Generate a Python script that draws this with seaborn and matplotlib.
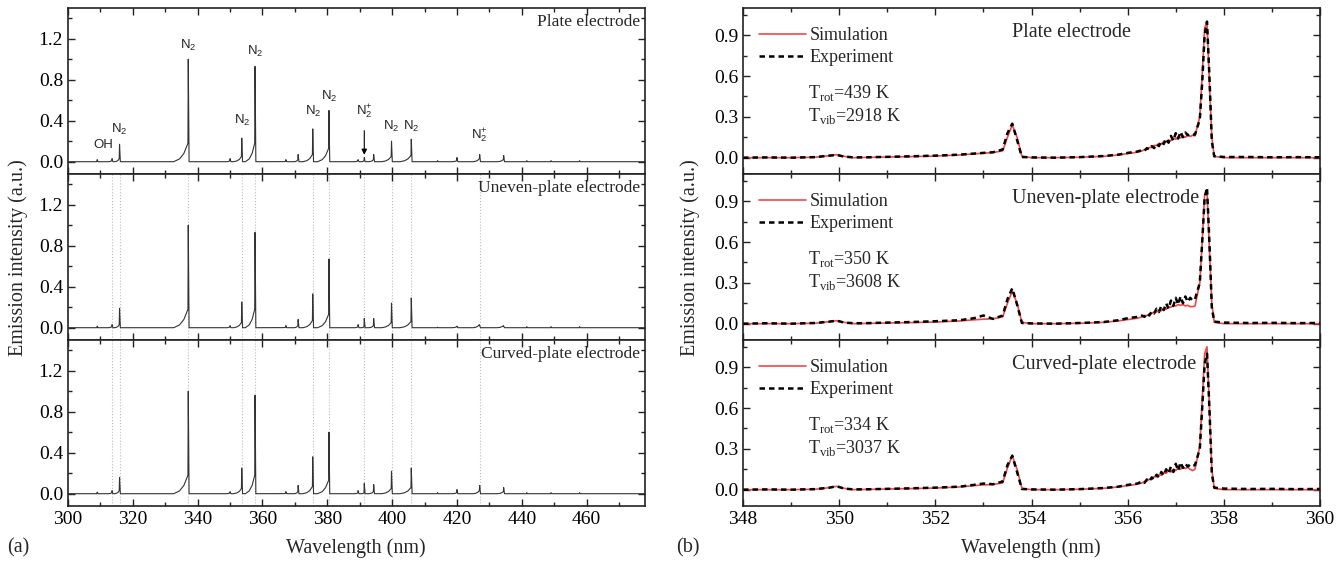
import matplotlib
matplotlib.use("Agg")
import matplotlib.pyplot as plt
import pandas as pd
import seaborn as sns

# ---------------- panel (a): survey spectra ----------------
band_heads = [309.0, 313.6, 315.9, 337.1, 350.0, 353.6, 357.7, 367.2, 371.0, 375.5, 380.5,
              389.5, 391.4, 394.3, 399.8, 405.9, 414.0, 420.0, 427.0, 434.4, 441.5, 449.0, 457.8]
band_widths = [1.0, 1.2, 1.5, 4.5, 1.0, 2.5, 3.0, 1.0, 1.2, 3.0, 3.5,
               1.0, 0.8, 1.5, 3.0, 3.5, 1.0, 1.5, 2.0, 2.0, 1.0, 1.0, 1.0]
band_tails = [0.0, 0.01, 0.03, 0.18, 0.01, 0.05, 0.18, 0.005, 0.02, 0.07, 0.13,
              0.01, 0.01, 0.02, 0.05, 0.06, 0.0, 0.01, 0.03, 0.02, 0.0, 0.0, 0.0]
peaks_plate = [0.02, 0.03, 0.17, 1.0, 0.03, 0.23, 0.93, 0.02, 0.07, 0.32, 0.50,
               0.02, 0.04, 0.07, 0.20, 0.22, 0.01, 0.04, 0.07, 0.06, 0.01, 0.01, 0.01]
peaks_uneven = [0.015, 0.03, 0.19, 1.0, 0.02, 0.25, 0.93, 0.02, 0.08, 0.33, 0.67,
                0.03, 0.09, 0.09, 0.24, 0.29, 0.005, 0.015, 0.02, 0.015, 0.01, 0.01, 0.01]
peaks_curved = [0.015, 0.03, 0.16, 1.0, 0.02, 0.25, 0.96, 0.02, 0.08, 0.36, 0.60,
                0.03, 0.10, 0.09, 0.22, 0.25, 0.01, 0.04, 0.08, 0.06, 0.01, 0.01, 0.01]
marked_lines = [313.6, 315.9, 337.1, 353.6, 357.7, 375.5, 380.5, 391.4, 399.8, 405.9, 427.0]
electrodes = ["Plate electrode", "Uneven-plate electrode", "Curved-plate electrode"]

# peak labels in the top survey panel: (wavelength, height, text)
label_wl = [310.8, 315.9, 337.1, 353.6, 357.7, 375.5, 380.5, 391.4, 399.8, 405.9, 427.0]
label_y = [0.16, 0.31, 1.13, 0.40, 1.08, 0.49, 0.64, 0.49, 0.34, 0.34, 0.25]
label_txt = ["OH", "N2", "N2", "N2", "N2", "N2", "N2", "N2+", "N2", "N2", "N2+"]

# ---------------- panel (b): fitted N2 (0-2)/(1-3) bands ----------------
wl_b = [348.0, 348.5, 349.0, 349.5, 349.8, 349.95, 350.1, 350.3, 350.6, 351.0, 351.5, 352.0,
        352.5, 352.8, 353.0, 353.2, 353.4, 353.5, 353.6, 353.7, 353.8, 354.0, 354.5, 355.0,
        355.5, 355.8, 356.0, 356.2,
        356.3, 356.35, 356.4, 356.45, 356.5, 356.55, 356.6, 356.65, 356.7, 356.75, 356.8,
        356.85, 356.9, 356.95, 357.0, 357.05, 357.1, 357.15, 357.2, 357.25, 357.3, 357.35, 357.4,
        357.5, 357.55, 357.6, 357.65, 357.7, 357.75, 357.8, 358.0, 358.5, 359.0, 359.5, 360.0]

sim_plate = [0, 0, 0, 0.003, 0.015, 0.022, 0.01, 0.0, 0.002, 0.005, 0.008, 0.012,
             0.02, 0.028, 0.033, 0.038, 0.05, 0.15, 0.24, 0.15, 0.01, 0.0, 0.0, 0.003,
             0.01, 0.02, 0.03, 0.04,
             0.05, 0.06, 0.06, 0.075, 0.075, 0.09, 0.09, 0.105, 0.1, 0.12, 0.115,
             0.13, 0.125, 0.145, 0.135, 0.155, 0.145, 0.16, 0.15, 0.165, 0.155, 0.165, 0.16,
             0.3, 0.6, 0.95, 1.0, 0.55, 0.15, 0.01, 0.0, 0.0, 0.0, 0.0, 0.0]
exp_plate = [0, 0.002, 0, 0.004, 0.015, 0.02, 0.008, 0.002, 0.003, 0.006, 0.01, 0.015,
             0.022, 0.03, 0.035, 0.04, 0.06, 0.18, 0.25, 0.13, 0.005, 0.002, 0.0, 0.004,
             0.012, 0.022, 0.035, 0.045,
             0.055, 0.05, 0.07, 0.06, 0.085, 0.07, 0.10, 0.085, 0.12, 0.10, 0.14,
             0.11, 0.16, 0.125, 0.18, 0.14, 0.19, 0.15, 0.185, 0.165, 0.175, 0.17, 0.17,
             0.28, 0.55, 0.9, 1.0, 0.6, 0.12, 0.01, 0.005, 0.005, 0.003, 0.004, 0.003]

sim_uneven = [0, 0, 0, 0.003, 0.015, 0.022, 0.01, 0.0, 0.002, 0.005, 0.008, 0.012,
              0.02, 0.028, 0.033, 0.036, 0.05, 0.15, 0.24, 0.15, 0.01, 0.0, 0.0, 0.003,
              0.01, 0.02, 0.03, 0.04,
              0.05, 0.06, 0.06, 0.07, 0.075, 0.085, 0.085, 0.1, 0.095, 0.11, 0.105,
              0.125, 0.12, 0.135, 0.13, 0.14, 0.135, 0.14, 0.13, 0.135, 0.125, 0.125, 0.13,
              0.3, 0.6, 0.95, 0.98, 0.55, 0.15, 0.01, 0.0, 0.0, 0.0, 0.0, 0.0]
exp_uneven = [0, 0.003, 0, 0.005, 0.015, 0.022, 0.008, 0.003, 0.004, 0.008, 0.012, 0.018,
              0.025, 0.04, 0.06, 0.035, 0.06, 0.18, 0.26, 0.14, 0.005, 0.002, 0.0, 0.005,
              0.012, 0.025, 0.04, 0.05,
              0.06, 0.05, 0.075, 0.06, 0.09, 0.075, 0.11, 0.085, 0.13, 0.10, 0.15,
              0.11, 0.17, 0.13, 0.19, 0.14, 0.2, 0.15, 0.2, 0.16, 0.19, 0.17, 0.18,
              0.3, 0.6, 0.92, 1.0, 0.6, 0.12, 0.015, 0.008, 0.005, 0.006, 0.004, 0.005]

sim_curved = [0, 0, 0, 0.003, 0.015, 0.025, 0.01, 0.0, 0.002, 0.005, 0.008, 0.012,
              0.02, 0.03, 0.035, 0.038, 0.05, 0.16, 0.25, 0.15, 0.01, 0.0, 0.0, 0.003,
              0.01, 0.02, 0.03, 0.04,
              0.05, 0.06, 0.065, 0.075, 0.08, 0.095, 0.095, 0.11, 0.105, 0.125, 0.12,
              0.14, 0.13, 0.15, 0.14, 0.16, 0.15, 0.165, 0.155, 0.165, 0.15, 0.14, 0.15,
              0.32, 0.65, 1.0, 1.05, 0.6, 0.15, 0.01, 0.0, 0.0, 0.0, 0.0, 0.0]
exp_curved = [0, 0.002, 0, 0.004, 0.015, 0.025, 0.008, 0.002, 0.003, 0.006, 0.01, 0.015,
              0.022, 0.035, 0.045, 0.04, 0.06, 0.18, 0.25, 0.13, 0.005, 0.002, 0.0, 0.004,
              0.012, 0.022, 0.035, 0.045,
              0.06, 0.05, 0.075, 0.06, 0.09, 0.075, 0.11, 0.09, 0.13, 0.105, 0.15,
              0.12, 0.17, 0.13, 0.19, 0.14, 0.2, 0.16, 0.19, 0.17, 0.185, 0.175, 0.18,
              0.3, 0.6, 0.92, 1.0, 0.6, 0.12, 0.015, 0.008, 0.005, 0.006, 0.004, 0.005]

sims = [sim_plate, sim_uneven, sim_curved]
exps = [exp_plate, exp_uneven, exp_curved]
t_rot = [439, 350, 334]
t_vib = [2918, 3608, 3037]

sns.set_theme(style="ticks")
plt.rcParams["font.family"] = ["Liberation Serif", "DejaVu Serif"]
plt.rcParams["mathtext.fontset"] = "custom"
plt.rcParams["mathtext.rm"] = "Liberation Serif"
plt.rcParams["mathtext.sf"] = "Liberation Sans"
plt.rcParams["axes.linewidth"] = 1.2
plt.rcParams["axes.edgecolor"] = "#222222"

FS = 13      # legend / temperature text
TICK_FS = 14
LABEL_FS = 14.5


def survey_curve(peaks):
    xs, ys = [300.0], [0.0]
    for h, w, t, p in zip(band_heads, band_widths, band_tails, peaks):
        xs += [h - w, h - 0.6 * w, h - 0.3 * w, h - 0.1, h, h + 0.25]
        ys += [0.0, 0.15 * t, 0.45 * t, t, p, 0.0]
    xs.append(478.0)
    ys.append(0.0)
    return pd.DataFrame({"wl": xs, "I": ys})


def style_axes(ax):
    ax.tick_params(direction="in", which="both", top=True, right=True,
                   labelsize=TICK_FS, width=1.0, colors="#222222")
    ax.tick_params(which="major", length=5)
    ax.tick_params(which="minor", length=3)
    for lab in ax.get_xticklabels() + ax.get_yticklabels():
        lab.set_color("black")
    ax.set_xlabel("")
    ax.set_ylabel("")


fig = plt.figure(figsize=(13.44, 5.64), dpi=100)
W, H = 1344.0, 564.0
tops = [8, 174, 340]
ph = 166

all_peaks = [peaks_plate, peaks_uneven, peaks_curved]
for i in range(3):
    ax = fig.add_axes([68 / W, 1 - (tops[i] + ph) / H, 577 / W, ph / H])
    if i > 0:
        for wl in marked_lines:
            ax.axvline(wl, color="#bdbdbd", lw=0.8, ls=":", zorder=0)
    sns.lineplot(data=survey_curve(all_peaks[i]), x="wl", y="I", sort=False,
                 estimator=None, color="#333333", lw=0.8, ax=ax)
    ax.set_xlim(300, 478)
    ax.set_ylim(-0.12, 1.5)
    ax.set_xticks(range(300, 461, 20))
    ax.set_xticks(range(300, 478, 10), minor=True)
    ax.set_yticks([0.0, 0.4, 0.8, 1.2])
    ax.set_yticks([0.2, 0.6, 1.0, 1.4], minor=True)
    ax.set_yticklabels(["0.0", "0.4", "0.8", "1.2"])
    style_axes(ax)
    if i < 2:
        ax.set_xticklabels([])
    ax.text(0.992, 0.915, electrodes[i], transform=ax.transAxes, ha="right",
            va="center", fontsize=12.5)
    if i == 0:
        for wl, y, t in zip(label_wl, label_y, label_txt):
            if t == "OH":
                s = "OH"
            elif t == "N2":
                s = r"N$_\mathsf{2}$"
            else:
                s = r"N$_\mathsf{2}^\mathsf{+}$"
            ax.text(wl, y, s, ha="center", va="center", fontsize=9.5,
                    family=["Liberation Sans", "DejaVu Sans"])
        ax.annotate("", xy=(391.4, 0.04), xytext=(391.4, 0.33),
                    arrowprops=dict(arrowstyle="-|>", color="black", lw=0.8,
                                    mutation_scale=8))

for i in range(3):
    ax = fig.add_axes([743 / W, 1 - (tops[i] + ph) / H, 577 / W, ph / H])
    df = pd.DataFrame({"wl": wl_b, "sim": sims[i], "exp": exps[i]})
    sns.lineplot(data=df, x="wl", y="sim", color="#f04848", lw=1.2,
                 label="Simulation", ax=ax)
    sns.lineplot(data=df, x="wl", y="exp", color="black", lw=1.8,
                 linestyle=(0, (2.2, 1.6)), label="Experiment", ax=ax)
    ax.set_xlim(348, 360)
    ax.set_ylim(-0.12, 1.1)
    ax.set_xticks(range(348, 361, 2))
    ax.set_xticks(range(349, 360, 2), minor=True)
    ax.set_yticks([0.0, 0.3, 0.6, 0.9])
    ax.set_yticks([0.15, 0.45, 0.75, 1.05], minor=True)
    ax.set_yticklabels(["0.0", "0.3", "0.6", "0.9"])
    style_axes(ax)
    if i < 2:
        ax.set_xticklabels([])
    ax.legend(loc="upper left", frameon=False, fontsize=FS, handlelength=2.6,
              handletextpad=0.2, labelspacing=0.3, borderaxespad=0.0,
              bbox_to_anchor=(0.015, 0.93))
    ax.text(353.6, 0.85, electrodes[i], transform=ax.get_xaxis_transform(),
            ha="left", va="center", fontsize=14.5)
    ax.text(0.113, 0.49, r"T$_{\mathrm{rot}}$=%d K" % t_rot[i], transform=ax.transAxes,
            ha="left", va="center", fontsize=FS)
    ax.text(0.113, 0.35, r"T$_{\mathrm{vib}}$=%d K" % t_vib[i], transform=ax.transAxes,
            ha="left", va="center", fontsize=FS)

fig.text(18 / W, 1 - 258 / H, "Emission intensity (a.u.)", rotation=90,
         ha="center", va="center", fontsize=LABEL_FS)
fig.text(690 / W, 1 - 258 / H, "Emission intensity (a.u.)", rotation=90,
         ha="center", va="center", fontsize=LABEL_FS)
fig.text(356 / W, 1 - 548 / H, "Wavelength (nm)", ha="center", va="center",
         fontsize=LABEL_FS)
fig.text(1031 / W, 1 - 548 / H, "Wavelength (nm)", ha="center", va="center",
         fontsize=LABEL_FS)
fig.text(18 / W, 1 - 548 / H, "(a)", ha="center", va="center", fontsize=LABEL_FS)
fig.text(688 / W, 1 - 548 / H, "(b)", ha="center", va="center", fontsize=LABEL_FS)

fig.savefig("out.png", dpi=100)
